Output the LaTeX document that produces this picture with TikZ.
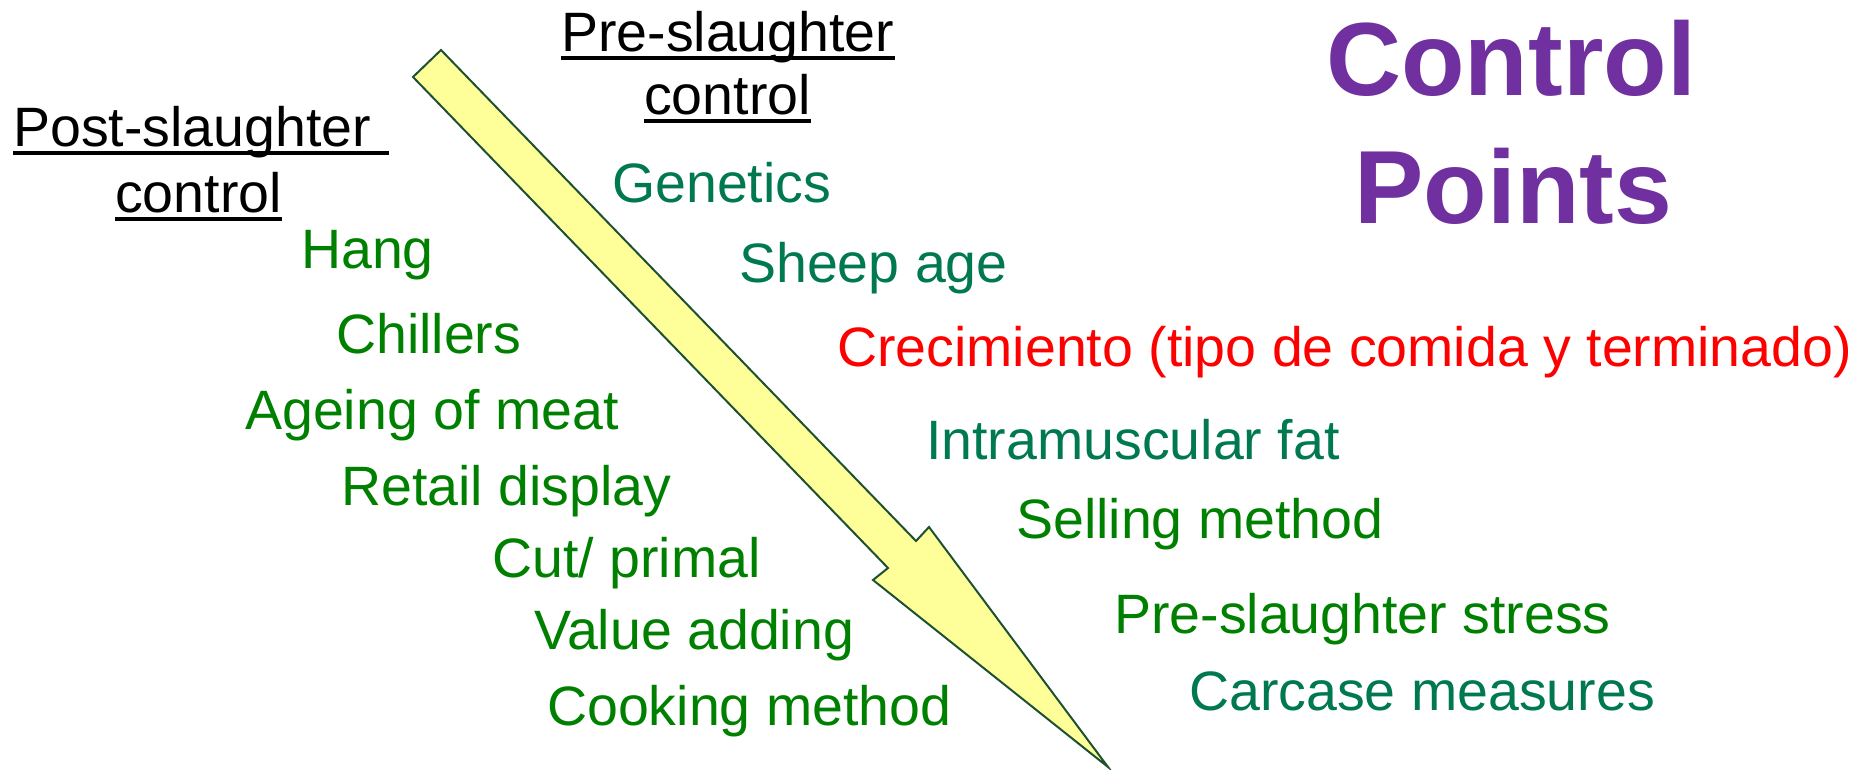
\documentclass[tikz,border=0pt]{standalone}
\usepackage{fontspec}
\setmainfont{Liberation Sans}
\definecolor{tealg}{RGB}{0,120,80}
\definecolor{leafg}{RGB}{0,128,0}
\definecolor{redc}{RGB}{255,0,0}
\definecolor{purp}{RGB}{112,48,160}
\definecolor{arrfill}{RGB}{255,255,153}
\definecolor{arrline}{RGB}{30,80,50}
\begin{document}
\begin{tikzpicture}[x=1pt,y=-1pt,
  lbl/.style={anchor=base west,inner sep=0pt,font=\fontsize{55.5}{60}\selectfont},
  headtxt/.style={lbl,text=black},
  teal/.style={lbl,text=tealg},
  leaf/.style={lbl,text=leafg},
  redt/.style={lbl,text=redc},
  bigtitle/.style={anchor=base west,inner sep=0pt,text=purp,font=\fontsize{104}{110}\selectfont\bfseries},
  uline/.style={line width=4pt,black}]
\useasboundingbox (0,0) rectangle (1859,769);
% arrow
\draw[fill=arrfill,draw=arrline,line width=2pt,line join=miter]
  (441,50) -- (916,541) -- (929,527) -- (1108,767) -- (873,580) -- (888,568) -- (413,77) -- cycle;
% headings
\node[headtxt] (pre1) at (561,51) {Pre-slaughter};
\node[headtxt] (pre2) at (644,114) {control};
\node[headtxt] (post1) at (13,146) {Post-slaughter};
\node[headtxt] (post2) at (115,212) {control};
\draw[uline] ([yshift=-7pt]pre1.base west) -- ([yshift=-7pt]pre1.base east);
\draw[uline] ([yshift=-7pt]pre2.base west) -- ([yshift=-7pt]pre2.base east);
\draw[uline] ([yshift=-7pt]post1.base west) -- ([yshift=-7pt,xshift=18pt]post1.base east);
\draw[uline] ([yshift=-7pt]post2.base west) -- ([yshift=-7pt]post2.base east);
% pre-slaughter items
\node[teal] (gen) at (612,202) {Genetics};
\node[teal] (sheep) at (739,282) {Sheep age};
\node[redt] (crec) at (837,366) {Crecimiento (tipo de comida y terminado)};
\node[teal] (imf) at (926,459) {Intramuscular fat};
\node[leaf] (sell) at (1016,538) {Selling method};
\node[leaf] (stress) at (1114,633) {Pre-slaughter stress};
\node[teal] (carc) at (1189,710) {Carcase measures};
% post-slaughter items
\node[leaf] (hang) at (301,268) {Hang};
\node[leaf] (chill) at (336,353) {Chillers};
\node[leaf] (age) at (245,429) {Ageing of meat};
\node[leaf] (retail) at (341,505) {Retail display};
\node[leaf] (cut) at (492,577) {Cut/ primal};
\node[leaf] (value) at (534,649) {Value adding};
\node[leaf] (cook) at (547,725) {Cooking method};
% title
\node[bigtitle] (t1) at (1326,95) {Control};
\node[bigtitle] (t2) at (1354,223) {Points};
\end{tikzpicture}
\end{document}
